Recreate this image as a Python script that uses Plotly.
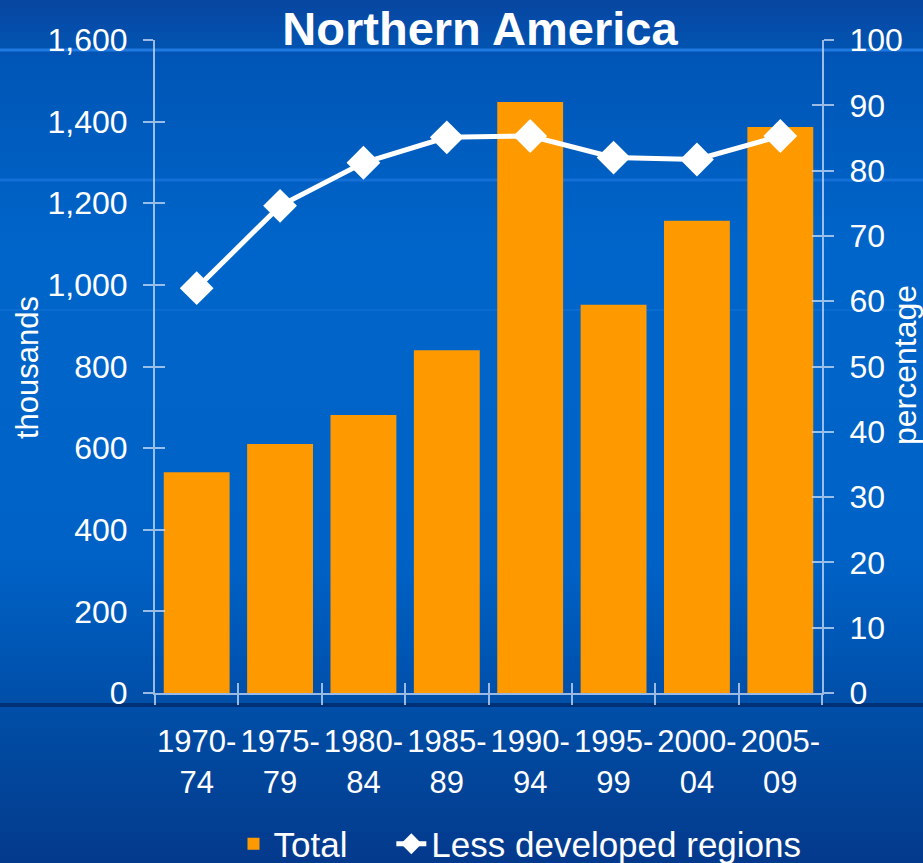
import plotly.graph_objects as go

# data
periods = ["1970-74", "1975-79", "1980-84", "1985-89", "1990-94", "1995-99", "2000-04", "2005-09"]
period_labels = ["1970-<br>74", "1975-<br>79", "1980-<br>84", "1985-<br>89", "1990-<br>94",
                 "1995-<br>99", "2000-<br>04", "2005-<br>09"]
total = [541, 610, 681, 840, 1448, 951, 1157, 1387]
less_developed = [62.0, 74.6, 81.2, 85.1, 85.3, 82.0, 81.7, 85.3]

FONT = "Liberation Sans, Arial, sans-serif"
AXIS_COL = "rgba(205,222,245,0.75)"
W, H = 923, 863
M_L, M_R, M_T, M_B = 155, 101, 40, 170
PW, PH = W - M_L - M_R, H - M_T - M_B
NBSP = "\u00a0"


def px_x(px):
    return (px - M_L) / PW


def px_y(py):
    return (H - M_B - py) / PH


def hex_rgb(h):
    return tuple(int(h[i:i + 2], 16) for i in (1, 3, 5))


# background gradient, built from a few colour stops
stops = [(0, "#0846a0"), (60, "#0056b6"), (250, "#0065ca"), (560, "#0062c6"),
         (700, "#004fa9"), (863, "#043a8c")]
shapes = []
step = 8
for top in range(0, H, step):
    mid = top + step / 2
    for (a, ca), (b, cb) in zip(stops, stops[1:]):
        if a <= mid <= b:
            t = (mid - a) / (b - a)
            c1, c2 = hex_rgb(ca), hex_rgb(cb)
            col = "rgb(%d,%d,%d)" % tuple(round(c1[i] + (c2[i] - c1[i]) * t) for i in range(3))
            break
    shapes.append(dict(type="rect", xref="paper", yref="paper", layer="below",
                       x0=px_x(-2), x1=px_x(W + 2), y0=px_y(top + step + 1), y1=px_y(top),
                       fillcolor=col, line=dict(width=0)))

# decorative bands of the slide background
for py, col, wd in [(50, "rgba(40,130,235,0.8)", 3), (180, "rgba(40,130,235,0.5)", 3),
                    (310, "rgba(40,130,235,0.25)", 2), (705, "rgba(0,45,110,0.85)", 4)]:
    shapes.append(dict(type="line", xref="paper", yref="paper", layer="below",
                       x0=px_x(0), x1=px_x(W), y0=px_y(py), y1=px_y(py),
                       line=dict(color=col, width=wd)))

fig = go.Figure()
fig.add_trace(go.Bar(name="Total" + NBSP * 4, x=periods, y=total, marker_color="#ff9900",
                     marker_line_width=0))
fig.add_trace(go.Scatter(name="Less developed regions", x=periods, y=less_developed, yaxis="y2",
                         mode="lines+markers", line=dict(color="white", width=5),
                         marker=dict(symbol="diamond", size=26, color="white")))
# helper traces so the inside half of each cross tick gets drawn
fig.add_trace(go.Scatter(x=periods, y=[None] * len(periods), xaxis="x2", yaxis="y3",
                         showlegend=False, hoverinfo="skip"))
fig.add_trace(go.Scatter(x=periods, y=[None] * len(periods), yaxis="y4",
                         showlegend=False, hoverinfo="skip"))

tick_common = dict(tickcolor=AXIS_COL, ticklen=10, tickwidth=2)
x_range = [-0.5, len(periods) - 0.5]

fig.update_layout(
    width=W, height=H,
    margin=dict(l=M_L, r=M_R, t=M_T, b=M_B, autoexpand=False),
    paper_bgcolor="#0062c6",
    plot_bgcolor="rgba(0,0,0,0)",
    shapes=shapes,
    font=dict(family=FONT, color="white", size=30),
    title=dict(text="<b>Northern America</b>", font=dict(size=47, color="white", family=FONT),
               x=px_x(480), xref="paper", xanchor="center", y=1 - 29 / H, yanchor="middle"),
    bargap=0.21,
    showlegend=True,
    legend=dict(orientation="h", x=px_x(520), xanchor="center", y=px_y(844), yanchor="middle",
                font=dict(size=35, color="white"), bgcolor="rgba(0,0,0,0)"),
    xaxis=dict(type="category", range=x_range, tickson="boundaries", ticks="outside",
               showline=True, linecolor=AXIS_COL, linewidth=2, showgrid=False, zeroline=False,
               tickvals=periods, ticktext=period_labels, tickangle=0,
               tickfont=dict(size=31, color="white"), ticklabelstandoff=20, **tick_common),
    xaxis2=dict(type="category", range=x_range, overlaying="x", anchor="y", side="bottom",
                tickson="boundaries", ticks="inside", showticklabels=False, showline=False,
                showgrid=False, tickvals=periods, **tick_common),
    yaxis=dict(range=[0, 1600], dtick=200, tickformat=",", ticks="outside", showline=True,
               linecolor=AXIS_COL, linewidth=2, showgrid=False, zeroline=False,
               tickfont=dict(size=32, color="white"), ticklabelstandoff=9, **tick_common),
    yaxis2=dict(range=[0, 100], dtick=10, overlaying="y", side="right", ticks="outside",
                showline=True, linecolor=AXIS_COL, linewidth=2, showgrid=False, zeroline=False,
                tickfont=dict(size=32, color="white"), ticklabelstandoff=9, **tick_common),
    yaxis3=dict(range=[0, 1600], dtick=200, overlaying="y", side="left", ticks="inside",
                showticklabels=False, showline=False, showgrid=False, zeroline=False,
                **tick_common),
    yaxis4=dict(range=[0, 100], dtick=10, overlaying="y", side="right", ticks="inside",
                showticklabels=False, showline=False, showgrid=False, zeroline=False,
                **tick_common),
    annotations=[
        dict(text="thousands", textangle=-90, xref="paper", yref="paper", x=px_x(27),
             y=px_y(368), xanchor="center", yanchor="middle", showarrow=False,
             font=dict(size=31, color="white")),
        dict(text="percentage", textangle=-90, xref="paper", yref="paper", x=px_x(905),
             y=px_y(365), xanchor="center", yanchor="middle", showarrow=False,
             font=dict(size=32, color="white")),
    ],
)

# drop the default page margin so the chart sits at the window's top-left corner
fig.write_html("out.html", config={"displayModeBar": False},
               post_script="document.body.style.margin='0';")
